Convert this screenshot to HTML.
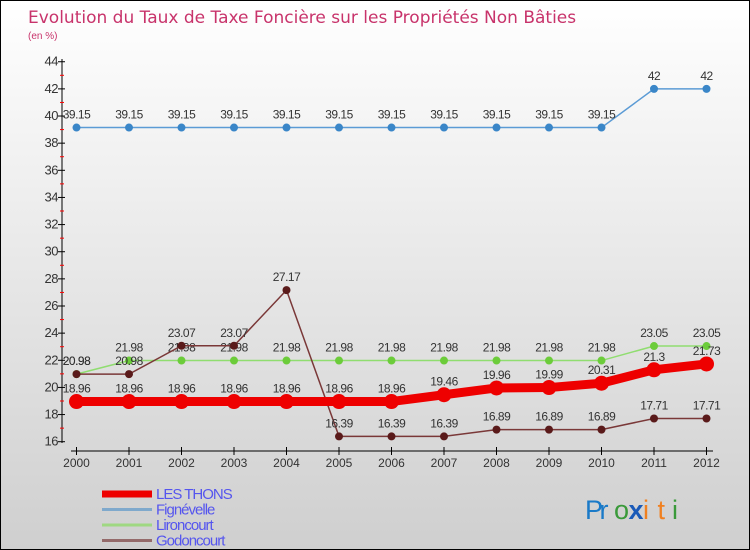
<!DOCTYPE html>
<html><head><meta charset="utf-8"><style>
body{margin:0}
#c{width:750px;height:550px;position:relative;overflow:hidden;background:linear-gradient(#ffffff,#cfcfcf);font-family:"DejaVu Sans","Liberation Sans",sans-serif;border:1px solid #000;box-sizing:border-box}
</style></head><body>
<div id="c">
<svg id="s" width="750" height="550"></svg>
</div>
<script>
const years=[2000,2001,2002,2003,2004,2005,2006,2007,2008,2009,2010,2011,2012];
const yTicks=[16,18,20,22,24,26,28,30,32,34,36,38,40,42,44];
const lesThons=[18.96,18.96,18.96,18.96,18.96,18.96,18.96,19.46,19.96,19.99,20.31,21.3,21.73];
const fignevelle=[39.15,39.15,39.15,39.15,39.15,39.15,39.15,39.15,39.15,39.15,39.15,42,42];
const lironcourt=[20.98,21.98,21.98,21.98,21.98,21.98,21.98,21.98,21.98,21.98,21.98,23.05,23.05];
const godoncourt=[20.98,20.98,23.07,23.07,27.17,16.39,16.39,16.39,16.89,16.89,16.89,17.71,17.71];
const NS="http://www.w3.org/2000/svg",svg=document.getElementById('s');
const X=i=>75.5+i*52.5, Y=v=>440.7-(v-16)*13.57;
const LF='"Liberation Sans",sans-serif';
function el(t,a,p){const e=document.createElementNS(NS,t);for(const k in a)e.setAttribute(k,a[k]);(p||svg).appendChild(e);return e;}
function tx(x,y,s,a,p){const e=el('text',Object.assign({x:x,y:y},a),p);e.textContent=s;return e;}
let t=tx(27,22,'Evolution du Taux de Taxe Foncière sur les Propriétés Non Bâties',{fill:'#c8336b','font-size':17});

t=tx(27,38,'(en %)',{fill:'#c8336b','font-size':10,'font-family':LF});

let ax=el('line',{x1:61,y1:58,x2:61,y2:442,stroke:'#000'});

yTicks.forEach((v,k)=>{el('line',{x1:57,y1:Y(v),x2:64,y2:Y(v),stroke:'#000'});
 if(k<yTicks.length-1) el('line',{x1:59,y1:Y(v+1),x2:63,y2:Y(v+1),stroke:'red'});
 const l=tx(57,Y(v)+4,v,{'text-anchor':'end','font-size':13,fill:'#333','font-family':LF,'letter-spacing':'-0.5'});
 });
let xa=el('line',{x1:70,y1:450,x2:712,y2:450,stroke:'#000'});

years.forEach((y,i)=>{el('line',{x1:X(i),y1:446,x2:X(i),y2:454,stroke:'#000'});
 const l=tx(X(i),466,y,{'text-anchor':'middle','font-size':12,fill:'#333','font-family':LF});
 });
function series(name,data,color,w,r,dot){
 const g=el('g',{});
 el('polyline',{points:data.map((v,i)=>X(i)+','+Y(v)).join(' '),fill:'none',stroke:color,'stroke-width':w},g);
 data.forEach((v,i)=>{const c=el('circle',{cx:X(i),cy:Y(v),r:r,fill:dot},g);
  
  const l=tx(X(i),Y(v)-9,String(v),{'text-anchor':'middle','font-size':12,fill:'#333','font-family':LF,'letter-spacing':'-0.5'},g);
  });
}
series('fignevelle',fignevelle,'#5b9bd5',1.5,4,'#3a86c8');
series('lironcourt',lironcourt,'#90dd70',1.5,4,'#6ccc3a');
series('godoncourt',godoncourt,'#7a3838',1.5,4,'#5a1a1a');
series('les-thons',lesThons,'#ee0000',9,7.5,'#ee0000');
const leg=[['LES THONS','#ee0000',7],['Fignévelle','#7fa9cc',3],['Lironcourt','#9fd882',3],['Godoncourt','#946a6a',3]];
leg.forEach((l,i)=>{const y=493+i*15.5;
 const g=el('g',{});
 el('line',{x1:101,y1:y,x2:151,y2:y,stroke:l[1],'stroke-width':l[2]},g);
 tx(155,y+5,l[0],{fill:'#5555ee','font-size':15,'font-family':LF,'letter-spacing':'-1'},g);});
const lg=el('g',{});
[['P','#1a7ac8'],['r','#1a7ac8'],['o','#3a9a3a'],['x','#1a5ab8'],['i','#f08020'],['t','#f08020'],['i','#3a9a3a']].forEach((c,i)=>
 tx(584+i*14.5,518,c[0],{fill:c[1],'font-size':27,'font-family':LF,'font-weight':i==3?'bold':'normal'},lg));
</script>
</body></html>
